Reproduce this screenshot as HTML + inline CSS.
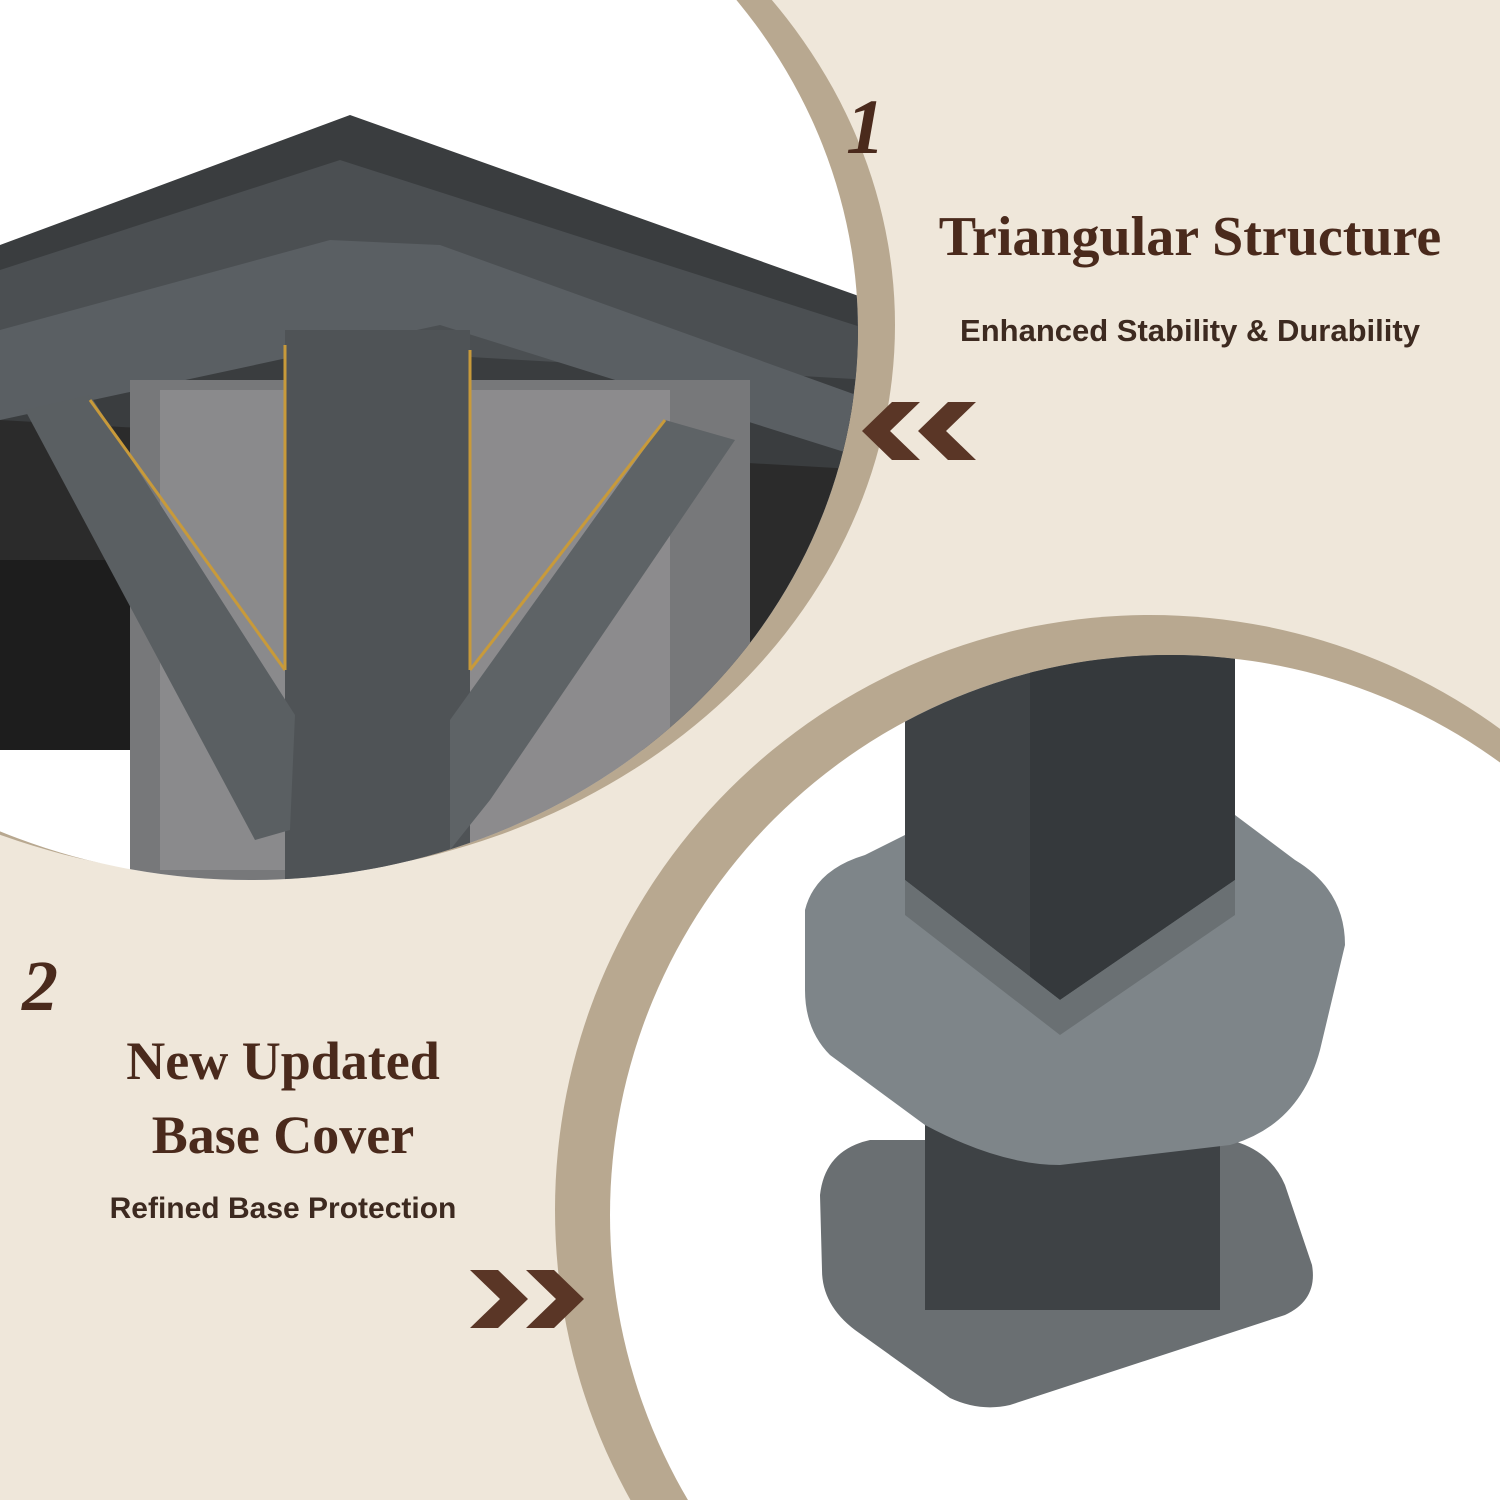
<!DOCTYPE html>
<html><head><meta charset="utf-8"><style>
html,body{margin:0;padding:0;width:1500px;height:1500px;overflow:hidden}
body{position:relative;background:#efe7da;font-family:"Liberation Sans",sans-serif;color:#4a2a1c}
.abs{position:absolute}
.t{position:absolute;font-weight:900;text-align:center;white-space:nowrap}
</style></head><body>
<svg class="abs" style="left:0;top:0" width="1500" height="1500" viewBox="0 0 1500 1500">
  <!-- top-left ring + photo -->
  <ellipse cx="250" cy="325" rx="645" ry="553" fill="#b8a890"/>
  <ellipse cx="250" cy="330" rx="608" ry="550" fill="#ffffff"/>
  <clipPath id="c1"><ellipse cx="250" cy="330" rx="608" ry="550"/></clipPath>
  <g clip-path="url(#c1)">
    <rect x="0" y="400" width="870" height="350" fill="#2b2b2b"/>
    <rect x="0" y="560" width="300" height="190" fill="#1d1d1d"/>
    <polygon points="0,245 350,115 870,300 870,470 0,420" fill="#3a3d3f"/>
    <polygon points="0,270 340,160 870,330 870,380 0,330" fill="#4b4f52"/>
    <polygon points="0,330 330,240 440,245 870,400 870,460 440,325 0,420" fill="#5a5f63"/>
    <rect x="130" y="380" width="620" height="500" fill="#77787a"/>
    <rect x="160" y="390" width="130" height="480" fill="#8a8a8c"/>
    <rect x="470" y="390" width="200" height="470" fill="#8c8b8d"/>
    <polygon points="285,330 470,330 470,880 285,880" fill="#4f5356"/>
    <polygon points="25,410 90,395 295,715 290,830 255,840" fill="#5a5f62"/>
    <polygon points="665,420 735,440 490,800 450,850 450,720" fill="#5e6366"/>
    <line x1="90" y1="400" x2="285" y2="670" stroke="#c89a3a" stroke-width="3"/>
    <line x1="285" y1="345" x2="285" y2="670" stroke="#c89a3a" stroke-width="3"/>
    <line x1="470" y1="350" x2="470" y2="670" stroke="#c89a3a" stroke-width="3"/>
    <line x1="470" y1="670" x2="665" y2="420" stroke="#c89a3a" stroke-width="3"/>
  </g>
  <!-- bottom-right ring + photo -->
  <circle cx="1150" cy="1210" r="595" fill="#b8a890"/>
  <circle cx="1170" cy="1215" r="560" fill="#ffffff"/>
  <clipPath id="c2"><circle cx="1170" cy="1215" r="560"/></clipPath>
  <g clip-path="url(#c2)">
    <path d="M820,1195 Q825,1150 870,1140 L1230,1140 Q1270,1150 1285,1185 L1312,1265 Q1318,1300 1285,1315 L1010,1405 Q980,1412 950,1398 L855,1330 Q822,1305 822,1270 Z" fill="#6a6f72"/>
    <rect x="925" y="1080" width="295" height="230" fill="#3e4245"/>
    <rect x="905" y="640" width="330" height="360" fill="#3e4245"/>
    <rect x="1030" y="640" width="205" height="360" fill="#35393c"/>
    <path d="M805,910 Q815,870 865,855 L905,835 L905,880 L1060,1000 L1235,880 L1235,815 L1295,860 Q1345,890 1345,945 L1320,1050 Q1300,1125 1230,1145 L1060,1165 Q1000,1165 925,1125 L830,1055 Q805,1030 805,990 Z" fill="#7e8589"/>
    <path d="M905,880 L1060,1000 L1235,880 L1235,915 L1060,1035 L905,915 Z" fill="#6a7073"/>
  </g>
</svg>
<div class="t" style="left:846px;top:82px;font-size:78px;font-style:italic;font-family:'Liberation Serif',serif">1</div>
<div class="t" style="left:900px;top:205px;width:580px;font-size:56px;font-family:'Liberation Serif',serif">Triangular Structure</div>
<div class="t" style="left:900px;top:313px;width:580px;font-size:31px;font-weight:700;color:#3d2a20">Enhanced Stability &amp; Durability</div>
<svg class="abs" style="left:862px;top:402px" width="116" height="58"><polygon points="30,0 58,0 28,29 58,58 30,58 0,29" fill="#5a3626"/><polygon points="86,0 114,0 84,29 114,58 86,58 56,29" fill="#5a3626"/></svg>
<div class="t" style="left:22px;top:945px;font-size:72px;font-style:italic;font-family:'Liberation Serif',serif">2</div>
<div class="t" style="left:60px;top:1030px;width:446px;font-size:54px;font-family:'Liberation Serif',serif">New Updated</div>
<div class="t" style="left:60px;top:1104px;width:446px;font-size:54px;font-family:'Liberation Serif',serif">Base Cover</div>
<div class="t" style="left:60px;top:1192px;width:446px;font-size:30px;font-weight:700;color:#3d2a20">Refined Base Protection</div>
<svg class="abs" style="left:470px;top:1270px" width="116" height="58"><polygon points="0,0 28,0 58,29 28,58 0,58 30,29" fill="#5a3626"/><polygon points="56,0 84,0 114,29 84,58 56,58 86,29" fill="#5a3626"/></svg>
</body></html>
